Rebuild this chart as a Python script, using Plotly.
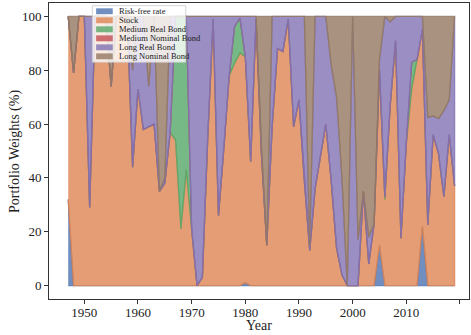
import plotly.graph_objects as go
import numpy as np

years = list(range(1947, 2020))
names = ["Risk-free rate", "Stock", "Medium Real Bond", "Medium Nominal Bond", "Long Real Bond", "Long Nominal Bond"]

risk_free = [32,0,0,0,0,0,0,0,0,0, 0,0,0,0,0,0,0,0,0,0, 0,0,0,0,0,0,0,0,0,0,
             0,0,0,1,0,0,0,0,0,0, 0,0,0,0,0,0,0,0,0,0, 0,0,0,0,0,0,0,0,15,0,
             0,0,0,0,0,0,22,0,0,0, 0,0,0]
stock = [68,79,100,100,29,100,100,100,74,100, 100,100,44,73,58,59,60,35,38,57,
         54,21,43,21,0,3,55,99,26,51, 78,82.6,86.4,84,46,99,49,15,59,88,
         87,99,59,69,39,13,36,48,60,39, 14,4,0,0,0,35,8,23,65,32,
         67,91,17.6,53,73,84,73,22.5,56,49, 33,56,37]
medium_real = [0,0,0,0,0,0,0,0,0,0, 0,0,0,0,0,0,0,0,0,0,
               46,79,57,0,0,0,0,0,0,0, 0,13.7,13,0,0,0,0,0,0,0,
               0,0,0,0,0,0,0,0,0,0, 0,0,0,0,0,0,0,0,0,1,
               0,0,0,0,10,0,0,0,0,0, 0,0,0]
medium_nominal = [0]*73
long_real = [0,0,0,0,71,0,0,0,0,0, 0,0,36,27,42,15,40,0,2,43,
             0,0,0,79,100,97,45,1,74,49, 22,3.7,0.6,15,54,1,3,0,41,12,
             13,1,41,31,61,2,64,52,40,43, 56,36,0,100,17,0,10,0,4,67,
             31,9,82.4,47,17,16,5,40,7,13, 32,13,63]
long_nominal = [0,21,0,0,0,0,0,0,26,0, 0,0,20,0,0,26,0,65,60,0,
                0,0,0,0,0,0,0,0,0,0, 0,0,0,0,0,0,48,85,0,0,
                0,0,0,0,0,85,0,0,0,18, 30,60,100,0,83,65,82,77,16,0,
                2,0,0,0,0,0,0,37.5,37,38, 35,31,0]

series = [risk_free, stock, medium_real, medium_nominal, long_real, long_nominal]
colors = ["76,114,176", "221,132,82", "85,168,104", "196,78,82", "129,114,179", "147,120,96"]

fig = go.Figure()
lower = np.zeros(len(years))
for vals, col, name in zip(series, colors, names):
    upper = lower + np.array(vals, dtype=float)
    xs = years + years[::-1]
    ys = list(upper) + list(lower[::-1])
    fig.add_trace(go.Scatter(
        x=xs, y=ys, mode="lines", fill="toself", name=name,
        fillcolor=f"rgba({col},0.8)",
        line=dict(color=f"rgba({col},0.8)", width=1.3),
        showlegend=False, hoverinfo="skip"))
    lower = upper

# custom legend (matplotlib-style, compact)
ly0 = 103.6
row = 3.35
fig.add_shape(type="rect", xref="x", yref="y", x0=1951.5, x1=1968.9, y0=ly0 - 6 * row - 0.5, y1=ly0 + 0.4,
              fillcolor="rgba(255,255,255,0.8)", line=dict(color="rgba(204,204,204,0.8)", width=1), layer="above")
for i, (name, col) in enumerate(zip(names, colors)):
    yc = ly0 - row * (i + 0.5)
    fig.add_shape(type="rect", xref="x", yref="y", x0=1952.2, x1=1955.3, y0=yc - 1.1, y1=yc + 1.1,
                  fillcolor=f"rgba({col},0.8)", line=dict(width=0), layer="above")
    fig.add_annotation(x=1956.0, y=yc, xref="x", yref="y", text=name, showarrow=False,
                       xanchor="left", yanchor="middle",
                       font=dict(family="Liberation Serif", size=8.5, color="#222"))

axis_common = dict(showline=True, linecolor="#333", linewidth=1, mirror=True, ticks="outside",
                   ticklen=4, tickcolor="#333", showgrid=False, zeroline=False, automargin=False,
                   tickfont=dict(family="Liberation Serif", size=13, color="#222"))
fig.update_xaxes(range=[1943.42, 2021.68], tickvals=[1950, 1960, 1970, 1980, 1990, 2000, 2010, 2020],
                 ticklabelstandoff=-3, **axis_common)
fig.update_yaxes(range=[-5, 105], tickvals=[0, 20, 40, 60, 80, 100],
                 **axis_common)
fig.add_annotation(x=0.5, y=-0.056, xref="paper", yref="paper", text="Year", showarrow=False,
                   xanchor="center", yanchor="top",
                   font=dict(family="Liberation Serif", size=14, color="#222"))
fig.add_annotation(x=-0.081, y=0.5, xref="paper", yref="paper", text="Portfolio Weights (%)", showarrow=False,
                   xanchor="center", yanchor="middle", textangle=-90,
                   font=dict(family="Liberation Serif", size=14, color="#222"))
fig.update_layout(width=471, height=335, margin=dict(l=49, r=2, t=3, b=36),
                  plot_bgcolor="white", paper_bgcolor="white", showlegend=False)
fig.write_html("out.html", config={"displayModeBar": False, "staticPlot": True},
               post_script="document.body.style.margin='0';document.body.style.padding='0';")
